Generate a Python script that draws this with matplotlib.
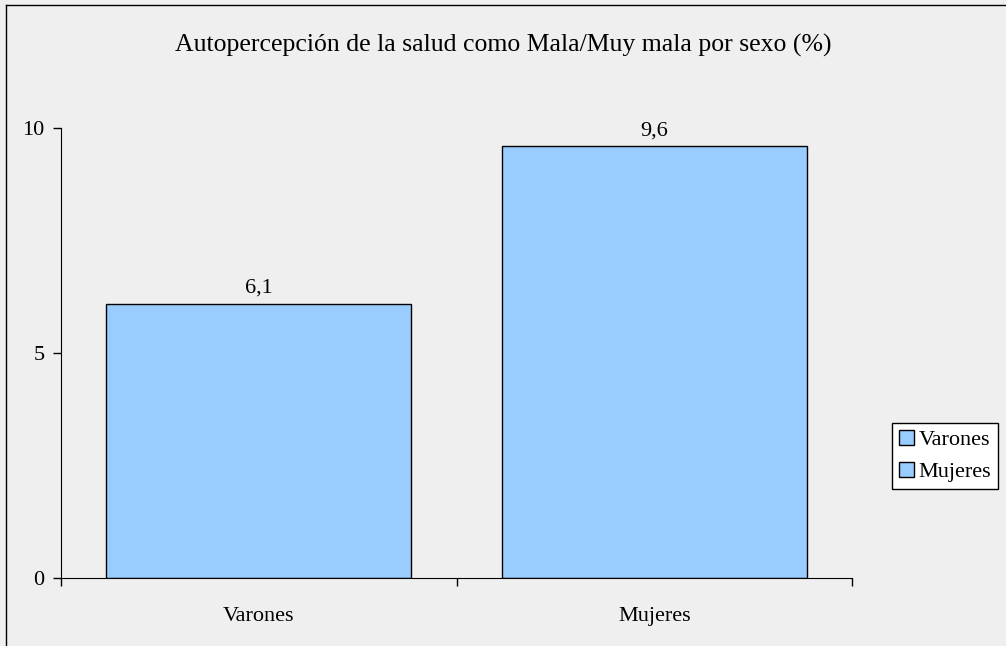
import matplotlib.pyplot as plt
from matplotlib.lines import Line2D

categories = ['Varones', 'Mujeres']
values = [6.1, 9.6]
value_labels = ['6,1', '9,6']
yticks = [0, 5, 10]

plt.rcParams['font.family'] = ['Liberation Serif', 'DejaVu Serif']

fig = plt.figure(figsize=(10.06, 6.46), dpi=100)
fig.patch.set_facecolor('#efefef')
ax = fig.add_axes([61 / 1006, 1 - 578 / 646, (852 - 61) / 1006, (578 - 128) / 646])
ax.set_facecolor('none')

bars = []
for i, (c, v) in enumerate(zip(categories, values)):
    b = ax.bar(i, v, width=0.77, color='#99ccff', edgecolor='black', linewidth=1, label=c)
    bars.append(b)
    ax.annotate(value_labels[i], (i, v), xytext=(0, 4), textcoords='offset points',
                ha='center', va='bottom', fontsize=16)

ax.set_xlim(-0.5, 1.5)
ax.set_ylim(0, 10)
ax.set_yticks(yticks)
ax.set_yticklabels([str(t) for t in yticks], fontsize=16)
ax.tick_params(axis='y', direction='out', length=6, width=1, pad=6)
ax.set_xticks([-0.5, 0.5, 1.5])
ax.set_xticklabels([])
ax.tick_params(axis='x', which='major', direction='out', length=6, width=1)
ax.set_xticks([0, 1], minor=True)
ax.set_xticklabels(categories, minor=True, fontsize=16)
ax.tick_params(axis='x', which='minor', length=0, pad=21)
for s in ['top', 'right']:
    ax.spines[s].set_visible(False)

fig.text(0.5, 1 - 45 / 646, 'Autopercepción de la salud como Mala/Muy mala por sexo (%)',
         ha='center', va='center', fontsize=18.5)

fig.legend(handles=[b[0] for b in bars], labels=categories, loc='center left',
           bbox_to_anchor=(892 / 1006, 1 - 456 / 646), fontsize=16, frameon=True,
           fancybox=False, edgecolor='black', facecolor='white', framealpha=1,
           handlelength=0.7, handleheight=0.7, handletextpad=0.2, borderpad=0.3,
           labelspacing=0.5, borderaxespad=0)

fig.add_artist(Line2D([6 / 1006, 6 / 1006], [0, 1 - 5 / 646], color='black', lw=1))
fig.add_artist(Line2D([6 / 1006, 1], [1 - 5 / 646, 1 - 5 / 646], color='black', lw=1))

fig.savefig('out.png', dpi=100, facecolor=fig.get_facecolor())
